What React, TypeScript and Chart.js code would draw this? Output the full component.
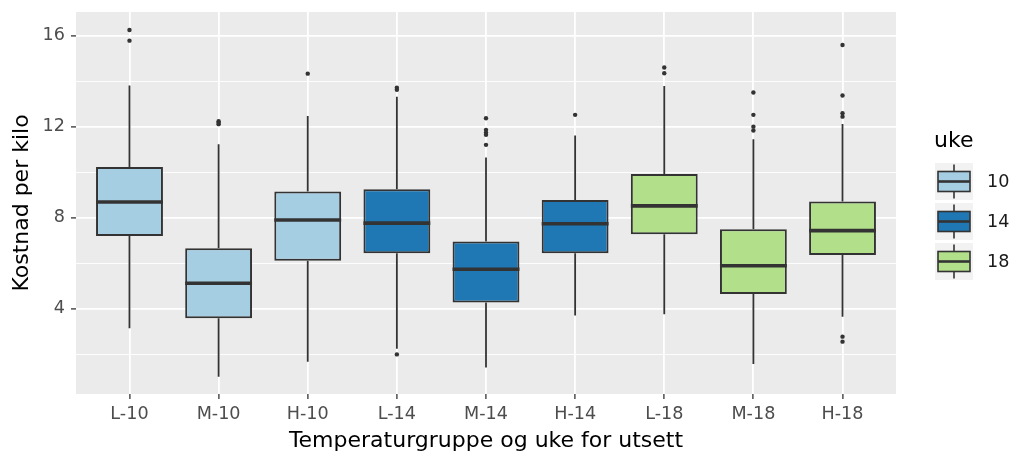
import React, { useEffect, useRef } from "react";
import { Chart, registerables } from "chart.js";

Chart.register(...registerables);

const categories = ["L-10", "M-10", "H-10", "L-14", "M-14", "H-14", "L-18", "M-18", "H-18"];
const ukeOfCategory = ["10", "10", "10", "14", "14", "14", "18", "18", "18"];
const ukeLevels = ["10", "14", "18"];
const ukeColors = ["#A6CEE3", "#1F78B4", "#B2DF8A"];

const whiskerLow = [3.15, 1.02, 1.68, 2.25, 1.42, 3.71, 3.77, 1.58, 3.66];
const q1 = [7.21, 3.59, 6.12, 6.45, 4.28, 6.45, 7.28, 4.66, 6.37];
const median = [8.7, 5.13, 7.91, 7.77, 5.74, 7.74, 8.53, 5.9, 7.44];
const q3 = [10.24, 6.67, 9.16, 9.26, 6.96, 8.79, 9.93, 7.5, 8.72];
const whiskerHigh = [13.82, 11.24, 12.48, 13.33, 10.65, 11.62, 13.8, 11.46, 12.13];
const outliers = [
  [16.26, 15.79],
  [12.25, 12.18, 12.12],
  [14.34],
  [13.72, 13.63, 2.0],
  [12.38, 11.87, 11.75, 11.65, 11.21],
  [12.53],
  [14.61, 14.36],
  [13.51, 12.53, 12.01, 11.84],
  [15.6, 13.38, 12.6, 12.45, 2.78, 2.56],
];

const yTickValues = [2, 4, 6, 8, 10, 12, 14, 16];
const yLabelValues = [4, 8, 12, 16];

const FONT = "'DejaVu Sans', sans-serif";
const INK = "#333333";

const boxPlugin = {
  id: "boxParts",
  beforeDraw(chart: any) {
    const { ctx, chartArea } = chart;
    ctx.save();
    ctx.fillStyle = "#EBEBEB";
    ctx.fillRect(chartArea.left, chartArea.top, chartArea.right - chartArea.left, chartArea.bottom - chartArea.top);
    ctx.restore();
  },
  beforeDatasetsDraw(chart: any) {
    const { ctx } = chart;
    const xs = chart.scales.x;
    const ys = chart.scales.y;
    ctx.save();
    ctx.strokeStyle = INK;
    ctx.lineWidth = 1.8;
    categories.forEach((_, i) => {
      const x = xs.getPixelForValue(i);
      ctx.beginPath();
      ctx.moveTo(x, ys.getPixelForValue(q3[i]));
      ctx.lineTo(x, ys.getPixelForValue(whiskerHigh[i]));
      ctx.moveTo(x, ys.getPixelForValue(q1[i]));
      ctx.lineTo(x, ys.getPixelForValue(whiskerLow[i]));
      ctx.stroke();
    });
    ctx.restore();
  },
  afterDatasetsDraw(chart: any) {
    const { ctx } = chart;
    const ys = chart.scales.y;
    const meta = chart.getDatasetMeta(0);
    ctx.save();
    ctx.strokeStyle = INK;
    ctx.lineWidth = 3.6;
    meta.data.forEach((el: any, i: number) => {
      const y = ys.getPixelForValue(median[i]);
      ctx.beginPath();
      ctx.moveTo(el.x - el.width / 2, y);
      ctx.lineTo(el.x + el.width / 2, y);
      ctx.stroke();
    });
    ctx.restore();
  },
  afterDraw(chart: any) {
    const { ctx } = chart;
    ctx.save();
    ctx.fillStyle = "#000000";
    ctx.font = `22px ${FONT}`;
    ctx.textAlign = "left";
    ctx.textBaseline = "middle";
    ctx.fillText("uke", 934, 141);
    ukeLevels.forEach((lv, k) => {
      const top = 163 + k * 40;
      const cy = top + 18.5;
      const cx = 954;
      ctx.fillStyle = "#F2F2F2";
      ctx.fillRect(935, top, 38, 37);
      ctx.strokeStyle = INK;
      ctx.lineWidth = 1.6;
      ctx.beginPath();
      ctx.moveTo(cx, cy - 17);
      ctx.lineTo(cx, cy - 10);
      ctx.moveTo(cx, cy + 10);
      ctx.lineTo(cx, cy + 17);
      ctx.stroke();
      ctx.fillStyle = ukeColors[k];
      ctx.fillRect(938, cy - 10, 32, 20);
      ctx.strokeRect(938, cy - 10, 32, 20);
      ctx.lineWidth = 2.6;
      ctx.beginPath();
      ctx.moveTo(938, cy);
      ctx.lineTo(970, cy);
      ctx.stroke();
      ctx.fillStyle = "#1A1A1A";
      ctx.font = `17.6px ${FONT}`;
      ctx.fillText(lv, 987, cy + 1);
    });
    ctx.restore();
  },
};

export default function App() {
  const ref = useRef<HTMLCanvasElement | null>(null);

  useEffect(() => {
    if (!ref.current) return;
    const boxData = categories.map((_, i) => ({ x: i, y: [q1[i], q3[i]] }));
    const outlierData: { x: number; y: number }[] = [];
    outliers.forEach((arr, i) => arr.forEach((v) => outlierData.push({ x: i, y: v })));
    const colorFor = categories.map((_, i) => ukeColors[ukeLevels.indexOf(ukeOfCategory[i])]);

    const chart = new Chart(ref.current, {
      type: "bar",
      data: {
        datasets: [
          {
            type: "bar",
            label: "boxes",
            data: boxData as any,
            backgroundColor: colorFor,
            borderColor: INK,
            borderWidth: 2,
            borderSkipped: false,
            barPercentage: 0.75,
            categoryPercentage: 1,
          } as any,
          {
            type: "scatter",
            label: "outliers",
            data: outlierData as any,
            backgroundColor: INK,
            borderWidth: 0,
            pointRadius: 2.2,
          } as any,
        ],
      },
      options: {
        responsive: false,
        animation: false,
        devicePixelRatio: 1,
        layout: { padding: { top: 12, right: 115, left: 0, bottom: 0 } },
        plugins: { legend: { display: false }, tooltip: { enabled: false } },
        scales: {
          x: {
            type: "linear",
            min: -0.6,
            max: 8.6,
            offset: false,
            afterBuildTicks: (s: any) => {
              s.ticks = categories.map((_, i) => ({ value: i }));
            },
            afterFit: (s: any) => {
              s.height = 64;
              s.paddingLeft = 0;
              s.paddingRight = 0;
            },
            ticks: {
              autoSkip: false,
              maxRotation: 0,
              padding: 5,
              color: "#4D4D4D",
              font: { family: FONT, size: 17.6 },
              callback: (v: any) => categories[Math.round(Number(v))] ?? "",
            },
            grid: {
              offset: false,
              color: "#FFFFFF",
              lineWidth: 1.8,
              tickLength: 5,
              tickColor: INK,
              tickWidth: 1.3,
            },
            border: { display: false },
            title: {
              display: true,
              text: "Temperaturgruppe og uke for utsett",
              color: "#000000",
              font: { family: FONT, size: 22 },
              padding: { top: 0, bottom: 4 },
            },
          } as any,
          y: {
            type: "linear",
            min: 0.26,
            max: 17.05,
            afterBuildTicks: (s: any) => {
              s.ticks = yTickValues.map((v) => ({ value: v }));
            },
            afterFit: (s: any) => {
              s.width = 76;
              s.paddingTop = 0;
              s.paddingBottom = 0;
            },
            ticks: {
              autoSkip: false,
              padding: 6,
              color: "#4D4D4D",
              font: { family: FONT, size: 17.6 },
              callback: (v: any) => (yLabelValues.includes(Number(v)) ? String(v) : ""),
            },
            grid: {
              color: "#FFFFFF",
              lineWidth: (c: any) => (c.tick && yLabelValues.includes(c.tick.value) ? 1.8 : 0.9),
              tickLength: 5,
              tickColor: (c: any) => (c.tick && yLabelValues.includes(c.tick.value) ? INK : "rgba(0,0,0,0)"),
              tickWidth: 1.3,
            },
            border: { display: false },
            title: {
              display: true,
              text: "Kostnad per kilo",
              color: "#000000",
              font: { family: FONT, size: 22 },
              padding: { top: 9, bottom: 0 },
            },
          } as any,
        },
      },
      plugins: [boxPlugin],
    });
    return () => chart.destroy();
  }, []);

  return (
    <div style={{ position: "fixed", left: 0, top: 0, width: 1011, height: 458, background: "#FFFFFF" }}>
      <canvas ref={ref} width={1011} height={458} />
    </div>
  );
}
